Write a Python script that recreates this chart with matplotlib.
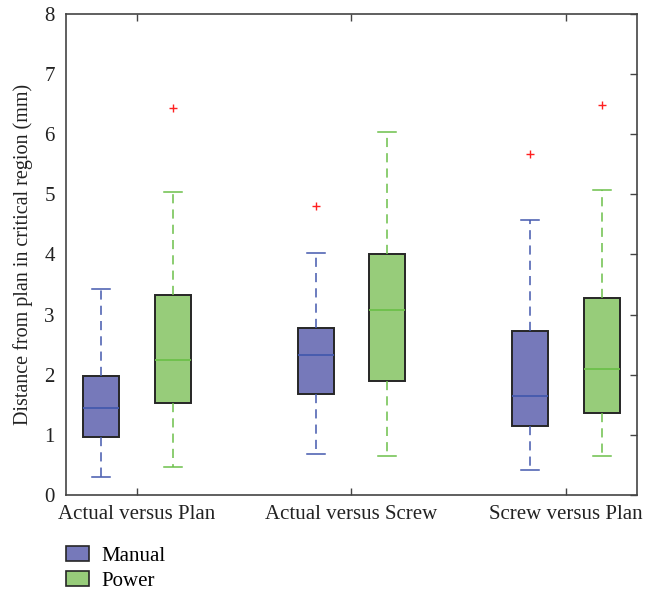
import matplotlib
matplotlib.use("Agg")
import matplotlib.pyplot as plt
from matplotlib.patches import Patch

categories = ["Actual versus Plan", "Actual versus Screw", "Screw versus Plan"]
series = ["Manual", "Power"]
# per category: [whislo, q1, med, q3, whishi], outliers
manual_stats = [[0.30, 0.96, 1.44, 1.98, 3.43],
                [0.68, 1.68, 2.32, 2.78, 4.03],
                [0.42, 1.15, 1.64, 2.72, 4.58]]
manual_out = [[], [4.81], [5.67]]
power_stats = [[0.47, 1.53, 2.25, 3.33, 5.04],
               [0.64, 1.89, 3.07, 4.00, 6.03],
               [0.64, 1.37, 2.10, 3.28, 5.07]]
power_out = [[6.44], [], [6.49]]
yticks = [0, 1, 2, 3, 4, 5, 6, 7, 8]

plt.rcParams['font.family'] = ['Liberation Serif', 'DejaVu Serif']

fig = plt.figure(figsize=(6.58, 5.93), dpi=100)
ax = fig.add_axes([0.1003, 0.1653, 0.8677, 0.8111])

def mk(stats, outs):
    res = []
    for s, o in zip(stats, outs):
        res.append(dict(whislo=s[0], q1=s[1], med=s[2], q3=s[3], whishi=s[4], fliers=o))
    return res

styles = {
    "Manual": dict(fill="#7679BA", line="#4459AD", off=-0.166),
    "Power": dict(fill="#97CC7A", line="#6CC04A", off=0.166),
}
for name, stats, outs in [("Manual", manual_stats, manual_out), ("Power", power_stats, power_out)]:
    st = styles[name]
    pos = [i + 1 + st["off"] for i in range(len(categories))]
    ax.bxp(mk(stats, outs), positions=pos, widths=0.168, capwidths=0.084,
           patch_artist=True, manage_ticks=False,
           boxprops=dict(facecolor=st["fill"], edgecolor="#262626", linewidth=1.4),
           medianprops=dict(color=st["line"], linewidth=1.3),
           whiskerprops=dict(color=st["line"], linestyle=(0, (6, 4)), linewidth=1.1),
           capprops=dict(color=st["line"], linewidth=1.1),
           flierprops=dict(marker="+", markeredgecolor="#ff2020", markersize=6, linestyle="none"))

ax.set_xlim(0.669, 3.331)
ax.set_ylim(0, 8)
ax.set_xticks([1, 2, 3])
ax.set_xticklabels(categories, fontsize=15, color="#222222")
ax.set_yticks(yticks)
ax.set_yticklabels([str(v) for v in yticks], fontsize=15, color="#222222")
ax.tick_params(direction="in", top=True, right=True, length=5, width=1, color="#444444")
ax.tick_params(axis="y", which="both", left=False, pad=8)
ax.tick_params(axis="x", pad=7)
for sp in ax.spines.values():
    sp.set_color("#444444")
    sp.set_linewidth(1.2)
ax.set_ylabel("Distance from plan in critical region (mm)", fontsize=14.5, color="#222222", labelpad=8)

handles = [Patch(facecolor=styles[s]["fill"], edgecolor="#262626", linewidth=1.2, label=s) for s in series]
fig.legend(handles=handles, loc="upper left", bbox_to_anchor=(0.1, 0.0795), frameon=False,
           fontsize=15, handlelength=1.1, handleheight=0.75, labelspacing=0.25, handletextpad=0.6,
           borderaxespad=0, borderpad=0)
fig.savefig("out.png", dpi=100)
